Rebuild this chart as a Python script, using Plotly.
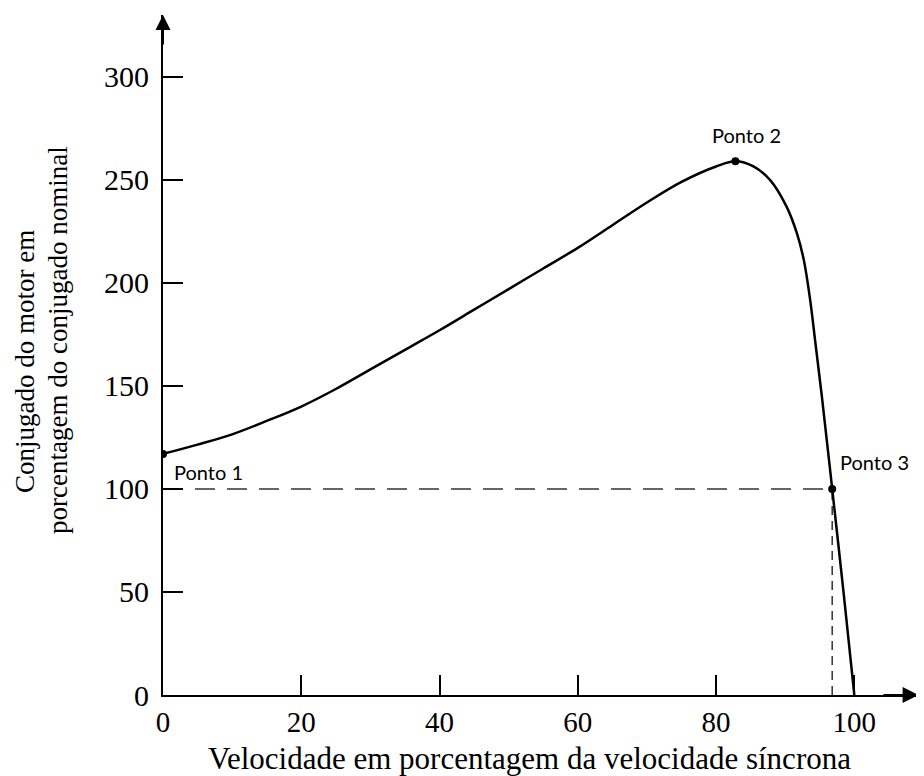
import plotly.graph_objects as go

# Data
speed = [0, 5, 10, 15, 20, 25, 30, 35, 40, 45, 50, 55, 60, 65, 70, 75, 80,
         82.8, 85.4, 87.8, 90.2, 91.7, 92.7, 93.6, 94.4, 95.3, 96.8, 98.5, 100]
torque = [117, 121.5, 126.5, 133, 140, 148.5, 158, 167.5, 177, 187, 197, 207, 217, 228, 239, 249, 256.5,
          259, 256.5, 250, 237, 224, 211, 192, 170, 145, 100, 48, 0]

point_names = ["Ponto 1", "Ponto 2", "Ponto 3"]
point_x = [0, 82.8, 96.8]
point_y = [117, 259, 100]

x_ticks = [0, 20, 40, 60, 80, 100]
y_ticks = [0, 50, 100, 150, 200, 250, 300]
x_title = "Velocidade em porcentagem da velocidade síncrona"
y_title_1 = "Conjugado do motor em"
y_title_2 = "porcentagem do conjugado nominal"

serif = "Liberation Serif, Times New Roman, serif"
sans = "Lato, Open Sans, sans-serif"

fig = go.Figure()

# dashed guides through Ponto 3
fig.add_trace(go.Scatter(x=[0, point_x[2]], y=[point_y[2], point_y[2]], mode="lines",
                         line=dict(color="#333333", width=1.5, dash="20px,12px"),
                         hoverinfo="skip", showlegend=False))
fig.add_trace(go.Scatter(x=[point_x[2], point_x[2]], y=[0, point_y[2]], mode="lines",
                         line=dict(color="#333333", width=1.5, dash="9px,6px"),
                         hoverinfo="skip", showlegend=False))

# torque-speed curve
fig.add_trace(go.Scatter(x=speed, y=torque, mode="lines",
                         line=dict(color="black", width=2.5, shape="spline", smoothing=1.0),
                         showlegend=False))

# points
fig.add_trace(go.Scatter(x=point_x, y=point_y, mode="markers",
                         marker=dict(color="black", size=8), showlegend=False))

annotations = []
label_pos = [(1.3, 108, "left"), (84.4, 272, "center"), (97.7, 113, "left")]
for name, (lx, ly, al) in zip(point_names, label_pos):
    annotations.append(dict(x=lx, y=ly, xref="x", yref="y", text=name, showarrow=False,
                            xanchor=al, yanchor="middle",
                            font=dict(family=sans, size=20, color="black")))

# axis arrows
annotations.append(dict(x=109.3, y=0, ax=104, ay=0, xref="x", yref="y", axref="x", ayref="y",
                        text="", showarrow=True, arrowhead=2, arrowsize=1.6, arrowwidth=2,
                        arrowcolor="black"))
annotations.append(dict(x=0, y=330, ax=0, ay=315, xref="x", yref="y", axref="x", ayref="y",
                        text="", showarrow=True, arrowhead=2, arrowsize=1.5, arrowwidth=2,
                        arrowcolor="black"))

# axis titles (positions given in page pixels)
titles = [
    (529, 758, x_title, 0, 31),
    (25, 362, y_title_1, -90, 27),
    (58, 340, y_title_2, -90, 27),
]

OFF = 8  # page body margin
W, H = 924 - OFF, 776 - OFF
L, T = 163 - OFF, 15 - OFF
R = W - (920 - OFF)
B = H - (695 - OFF)
pw, ph = W - L - R, H - T - B

for px, py, txt, ang, fs in titles:
    annotations.append(dict(x=(px - OFF - L) / pw, y=(H - B - (py - OFF)) / ph,
                            xref="paper", yref="paper", text=txt, showarrow=False,
                            textangle=ang, xanchor="center", yanchor="middle",
                            font=dict(family=serif, size=fs, color="black")))

fig.update_layout(
    width=W, height=H,
    margin=dict(l=L, r=R, t=T, b=B, autoexpand=False),
    paper_bgcolor="white", plot_bgcolor="white",
    annotations=annotations,
    showlegend=False,
    xaxis=dict(range=[0, 109.5], tickvals=x_ticks, ticktext=[str(v) for v in x_ticks],
               ticks="inside", ticklen=20, tickwidth=1.5, tickcolor="black",
               showline=True, linecolor="black", linewidth=2, showgrid=False, zeroline=False,
               tickfont=dict(family=serif, size=29, color="black"), ticklabelstandoff=0),
    yaxis=dict(range=[0, 330], tickvals=y_ticks, ticktext=[str(v) for v in y_ticks],
               ticks="inside", ticklen=20, tickwidth=1.5, tickcolor="black",
               showline=True, linecolor="black", linewidth=2, showgrid=False, zeroline=False,
               tickfont=dict(family=serif, size=30, color="black"), ticklabelstandoff=6),
)

fig.write_html("out.html")
